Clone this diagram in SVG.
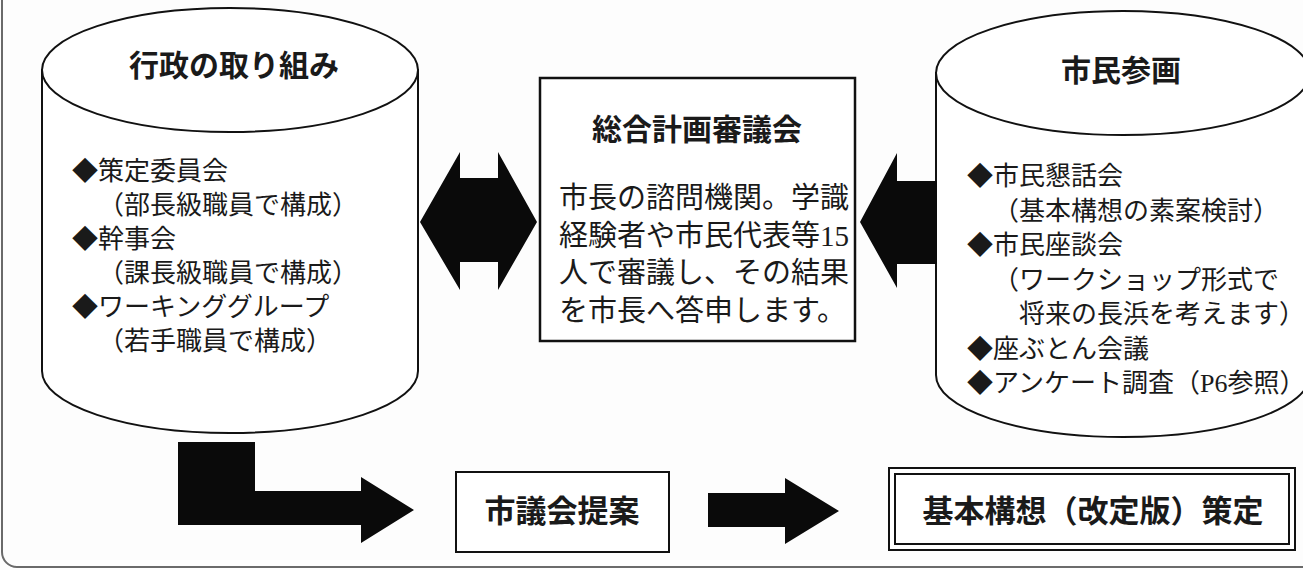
<svg xmlns="http://www.w3.org/2000/svg" width="1303" height="570" viewBox="0 0 1303 570">
<style>
.bg{fill:#fdfdfd}
.frame{fill:none;stroke:#6a6a6a;stroke-width:2}
.shape{fill:#fff;stroke:#111;stroke-width:2}
.box{fill:#fff;stroke:#111;stroke-width:2.5}
.arrow{fill:#0a0a0a;stroke:none}
.title{font-family:"Noto Sans CJK JP","Noto Sans",sans-serif;font-weight:bold;fill:#1a1a1a}
.body{font-family:"Noto Sans CJK JP","Noto Sans",sans-serif;font-weight:normal;fill:#1a1a1a}
.num{font-family:"Liberation Serif","Noto Sans CJK JP",serif}
</style>
<rect class="bg" x="0" y="0" width="1303" height="570"/>
<rect class="frame" x="2" y="-30" width="1330" height="597" rx="15" ry="15"/>

<g id="gyosei">
  <path class="shape" d="M42,70 L42,371 A188,62 0 0 0 418,371 L418,70 Z"/>
  <ellipse class="shape" cx="230" cy="70" rx="188" ry="62"/>
  <text class="title" x="234" y="76" font-size="30" text-anchor="middle">行政の取り組み</text>
  <g class="body" font-size="26">
    <text x="72" y="180">◆策定委員会</text>
    <text x="98" y="214">（部長級職員で構成）</text>
    <text x="72" y="248">◆幹事会</text>
    <text x="98" y="282">（課長級職員で構成）</text>
    <text x="72" y="316">◆ワーキンググループ</text>
    <text x="98" y="350">（若手職員で構成）</text>
  </g>
</g>

<g id="shingikai">
  <rect class="box" x="540" y="78" width="315" height="263"/>
  <text class="title" x="697" y="140" font-size="30" text-anchor="middle">総合計画審議会</text>
  <g class="body" font-size="29">
    <text x="559" y="208">市長の諮問機関。学識</text>
    <text x="559" y="245.5">経験者や市民代表等<tspan class="num">15</tspan></text>
    <text x="559" y="283">人で審議し、その結果</text>
    <text x="559" y="320.5">を市長へ答申します。</text>
  </g>
</g>

<g id="shimin">
  <path class="shape" d="M936,73 L936,375 A187,62 0 0 0 1310,375 L1310,73 Z"/>
  <ellipse class="shape" cx="1123" cy="73" rx="187" ry="62"/>
  <text class="title" x="1121" y="81" font-size="30" text-anchor="middle">市民参画</text>
  <g class="body" font-size="26">
    <text x="967" y="185">◆市民懇話会</text>
    <text x="993" y="219.5">（基本構想の素案検討）</text>
    <text x="967" y="254">◆市民座談会</text>
    <text x="993" y="288.5">（ワークショップ形式で</text>
    <text x="1019" y="323">将来の長浜を考えます）</text>
    <text x="967" y="357.5">◆座ぶとん会議</text>
    <text x="967" y="392">◆アンケート調査（<tspan class="num">P6</tspan>参照）</text>
  </g>
</g>

<g id="gikai">
  <rect class="shape" x="456" y="472" width="213" height="80"/>
  <text class="title" x="562" y="522" font-size="31" text-anchor="middle">市議会提案</text>
</g>

<g id="kihonkoso">
  <rect class="shape" x="889" y="468" width="406" height="82"/>
  <rect class="shape" x="895" y="474" width="394" height="70"/>
  <text class="title" x="1093" y="522" font-size="31" text-anchor="middle">基本構想（改定版）策定</text>
</g>

<g id="connectors">
  <polygon class="arrow" points="420,222 460,152 460,178 498,178 498,152 537,222 498,290 498,262 460,262 460,290"/>
  <polygon class="arrow" points="860,222 897,153 897,181 937,181 937,264 897,264 897,288"/>
  <polygon class="arrow" points="178,442 255,442 255,491 361,491 361,477 414,510 361,543 361,525 178,525"/>
  <polygon class="arrow" points="708,493 785,493 785,478 839,511 785,544 785,527 708,527"/>
</g>
</svg>
